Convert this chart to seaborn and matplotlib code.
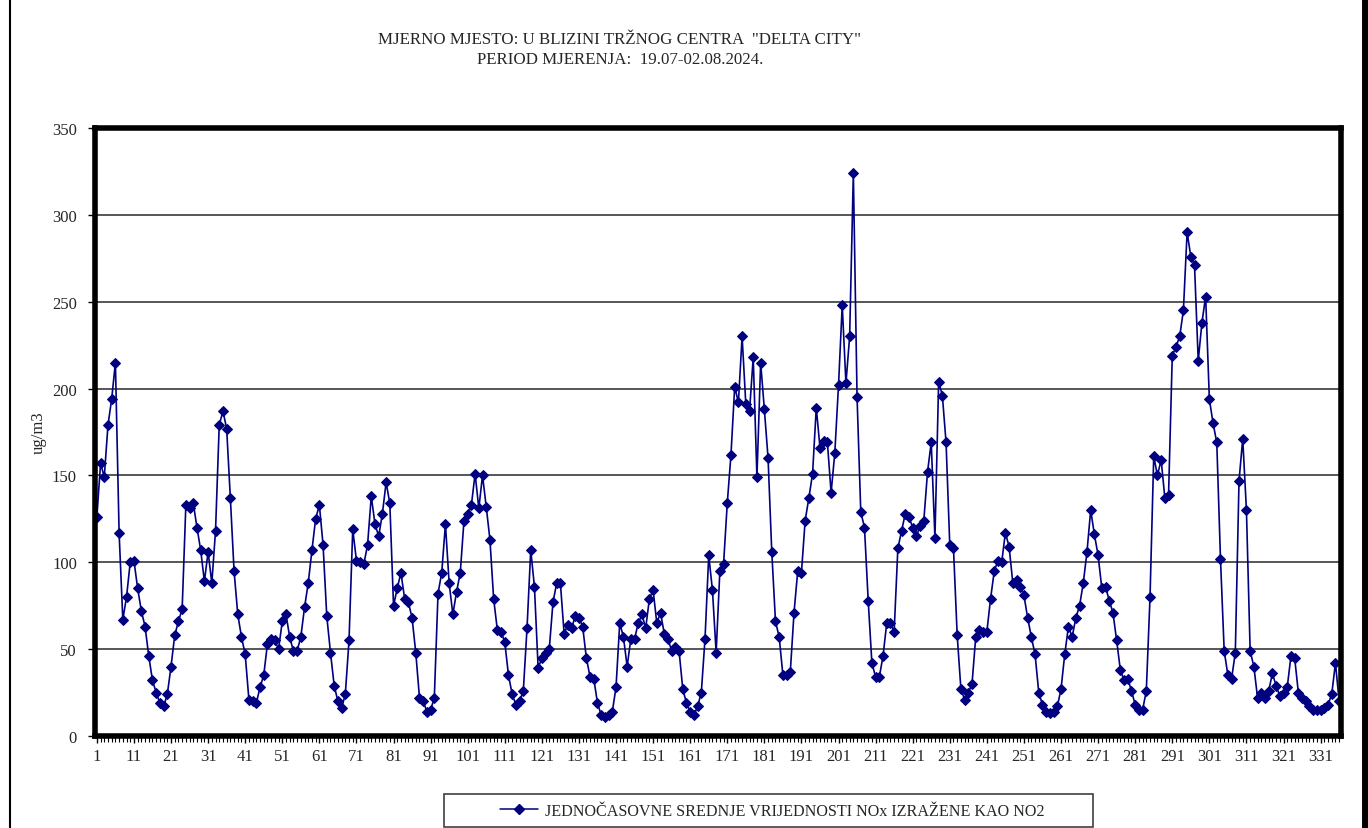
import matplotlib
matplotlib.use("Agg")
import matplotlib.pyplot as plt
import pandas as pd
import seaborn as sns
from matplotlib.patches import Rectangle
from matplotlib.lines import Line2D

# hourly NOx values (ug/m3)
nox = [126, 157, 149, 179, 194, 215, 117, 67, 80, 100,
       101, 85, 72, 63, 46, 32, 25, 19, 17, 24,
       40, 58, 66, 73, 133, 131, 134, 120, 107, 89,
       106, 88, 118, 179, 187, 177, 137, 95, 70, 57,
       47, 21, 20, 19, 28, 35, 53, 56, 55, 50,
       66, 70, 57, 49, 49, 57, 74, 88, 107, 125,
       133, 110, 69, 48, 29, 20, 16, 24, 55, 119,
       101, 100, 99, 110, 138, 122, 115, 128, 146, 134,
       75, 85, 94, 79, 77, 68, 48, 22, 20, 14,
       15, 22, 82, 94, 122, 88, 70, 83, 94, 124,
       128, 133, 151, 131, 150, 132, 113, 79, 61, 60,
       54, 35, 24, 18, 20, 26, 62, 107, 86, 39,
       45, 48, 50, 77, 88, 88, 59, 64, 62, 69,
       68, 63, 45, 34, 33, 19, 12, 11, 12, 14,
       28, 65, 57, 40, 56, 56, 65, 70, 62, 79,
       84, 65, 71, 59, 56, 49, 51, 49, 27, 19,
       14, 12, 17, 25, 56, 104, 84, 48, 95, 99,
       134, 162, 201, 192, 230, 191, 187, 218, 149, 215,
       188, 160, 106, 66, 57, 35, 35, 37, 71, 95,
       94, 124, 137, 151, 189, 166, 170, 169, 140, 163,
       202, 248, 203, 230, 324, 195, 129, 120, 78, 42,
       34, 34, 46, 65, 65, 60, 108, 118, 128, 126,
       120, 115, 121, 124, 152, 169, 114, 204, 196, 169,
       110, 108, 58, 27, 21, 25, 30, 57, 61, 60,
       60, 79, 95, 101, 100, 117, 109, 88, 90, 86,
       81, 68, 57, 47, 25, 18, 14, 13, 14, 17,
       27, 47, 63, 57, 68, 75, 88, 106, 130, 116,
       104, 85, 86, 78, 71, 55, 38, 32, 33, 26,
       18, 15, 15, 26, 80, 161, 150, 159, 137, 139,
       219, 224, 230, 245, 290, 276, 271, 216, 238, 253,
       194, 180, 169, 102, 49, 35, 33, 48, 147, 171,
       130, 49, 40, 22, 25, 22, 26, 36, 29, 23,
       25, 28, 46, 45, 25, 22, 20, 17, 15, 15,
       15, 16, 18, 24, 42, 20]
hours = list(range(1, len(nox) + 1))
x_ticks = list(range(1, 336, 10))
y_ticks = [0, 50, 100, 150, 200, 250, 300, 350]

series_label = "JEDNOČASOVNE SREDNJE VRIJEDNOSTI NOx IZRAŽENE KAO NO2"
title_1 = 'MJERNO MJESTO: U BLIZINI TRŽNOG CENTRA  "DELTA CITY"'
title_2 = "PERIOD MJERENJA:  19.07-02.08.2024."

df = pd.DataFrame({"hour": hours, "nox": nox})

sns.set_style("white")
plt.rcParams['font.family'] = ['Liberation Serif', 'DejaVu Serif']

W, H = 1368, 829
fig = plt.figure(figsize=(W / 100, H / 100), dpi=100)
ax = fig.add_axes([95 / W, (H - 737) / H, 1246 / W, 608 / H])

sns.lineplot(data=df, x="hour", y="nox", ax=ax, color="#000080",
             marker="D", markersize=5.5, markeredgecolor="#000080",
             linewidth=1.2, label=series_label, legend=False)

ax.set_xlim(0.5, len(nox) + 0.5)
ax.set_ylim(0, 350)
ax.set_yticks(y_ticks)
ax.set_xticks(x_ticks)
ax.set_xticks(hours, minor=True)
ax.yaxis.grid(True, color="#3a3a3a", linewidth=1.2)
ax.set_axisbelow(True)
ax.tick_params(axis="both", which="both", direction="out", length=5,
               width=1, color="black", labelsize=12, bottom=True, left=True)
ax.tick_params(axis="y", pad=8)
ax.tick_params(axis="x", which="minor", length=4, width=0.8)
ax.set_xlabel("")
ax.set_ylabel("ug/m3", fontsize=12, labelpad=4)
for s in ax.spines.values():
    s.set_color("black")
    s.set_linewidth(4)

# titles
fig.text(620 / W, 1 - 40 / H, title_1, ha="center", va="center", fontsize=12.2)
fig.text(620 / W, 1 - 60 / H, title_2, ha="center", va="center", fontsize=12.2)

# outer chart border (left and right edges visible)
fig.add_artist(Line2D([10 / W, 10 / W], [0, 1], color="black", lw=1.5,
                      transform=fig.transFigure))
fig.add_artist(Line2D([1365 / W, 1365 / W], [0, 1], color="black", lw=5,
                      transform=fig.transFigure))

# legend box
fig.add_artist(Rectangle((444 / W, 1 / H), (1093 - 444) / W, (829 - 796) / H,
                         transform=fig.transFigure, fill=False,
                         edgecolor="#404040", linewidth=1.2))
handle = Line2D([], [], color="#000080", marker="D", markersize=5,
                linewidth=1.1)
fig.legend([handle], [series_label], loc="center",
           bbox_to_anchor=(772 / W, 1 - 812 / H), frameon=False,
           fontsize=11.6, handlelength=2.4, handletextpad=0.4)

fig.savefig("out.png", dpi=100)
